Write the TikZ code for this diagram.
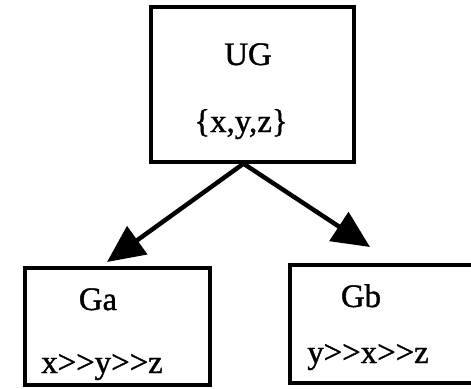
\documentclass[tikz,border=0pt]{standalone}
\usepackage{fontspec}
\setmainfont{Liberation Serif}[FakeBold=1.2]
\usetikzlibrary{arrows.meta}
\tikzset{
  box/.style={draw,line width=2.8pt,inner sep=0pt},
  txt/.style={anchor=base,inner sep=0pt,font=\fontsize{28}{32}\selectfont},
  link/.style={line width=3.8pt,-{Triangle[length=1.12cm,width=1.02cm]}}
}
\begin{document}
\begin{tikzpicture}[x=0.03cm,y=-0.03cm]
			\useasboundingbox (0,0) rectangle (471,389);
			% boxes
			\node[box,minimum width=6.09cm,minimum height=4.65cm] (ug) at (252.5,84.5) {};
			\node[box,minimum width=5.55cm,minimum height=3.51cm] (ga) at (117.5,326.5) {};
			\node[box,minimum width=5.58cm,minimum height=3.54cm] (gb) at (383,324) {};
			% texts
			\node[txt] (ugname) at (248,65) {UG};
			\node[txt] (ugset) at (241,132) {\{x,y,z\}};
			\node[txt] (ganame) at (98,310) {Ga};
			\node[txt] (gaorder) at (102,373) {x>{}>y>{}>z};
			\node[txt] (gbname) at (361,307) {Gb};
			\node[txt] (gborder) at (368,363) {y>{}>x>{}>z};
			% arrows
			\coordinate (tipa) at (107,262);
			\coordinate (tipb) at (370,247);
			\draw[link] ([xshift=-0.27cm]ug.south) -- (tipa);
			\draw[link] ([xshift=-0.27cm]ug.south) -- (tipb);
		\end{tikzpicture}
\end{document}
